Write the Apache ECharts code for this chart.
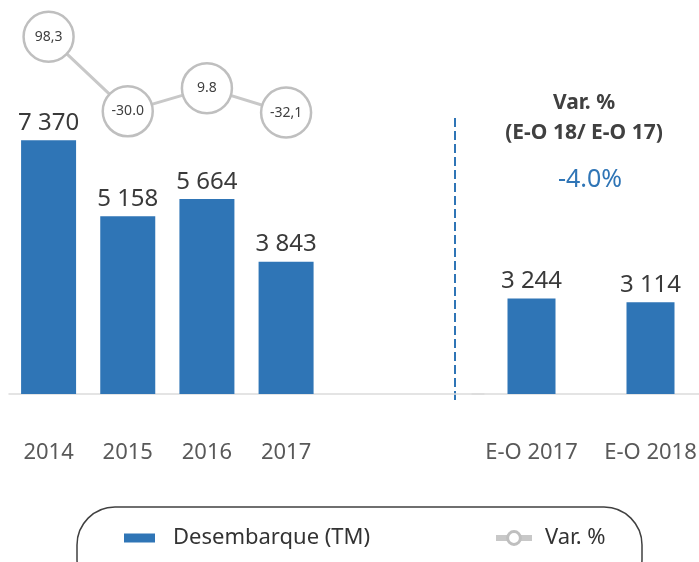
<!DOCTYPE html>
<html>
<head>
<meta charset="utf-8">
<script src="https://cdn.jsdelivr.net/npm/echarts@6/dist/echarts.min.js"></script>
<style>
  html, body { margin: 0; padding: 0; background: #fff; }
  #chart { width: 699px; height: 562px; }
</style>
</head>
<body>
<div id="chart"></div>
<script>
const years = ['2014', '2015', '2016', '2017'];
const desembarque = [7370, 5158, 5664, 3843];
const eoCats = ['E-O 2017', 'E-O 2018'];
const eoValues = [3244, 3114];
const varPct = [98.3, -30.0, 9.8, -32.1];
const varLabels = ['98,3', '-30.0', '9.8', '-32,1'];

const BLUE = '#2f75b6';
const fmt = v => String(v).replace(/\B(?=(\d{3})+(?!\d))/g, ' ');

const chart = echarts.init(document.getElementById('chart'));

const barLabel = {
  show: true,
  position: 'top',
  distance: 5,
  fontSize: 24,
  color: '#3a3a3a',
  formatter: p => fmt(p.value)
};

const xLabel = {
  fontSize: 22, color: '#595959', margin: 48,
  interval: 0, showMinLabel: true, showMaxLabel: true, hideOverlap: false
};

const option = {
  animation: false,
  textStyle: { fontFamily: 'Noto Sans' },
  grid: [
    { left: 9, right: 215, top: 20, bottom: 168, outerBoundsMode: 'none' },
    { left: 472, width: 238, top: 20, bottom: 168, outerBoundsMode: 'none' }
  ],
  xAxis: [
    {
      type: 'category', gridIndex: 0,
      data: years.concat(['', '']),
      axisTick: { show: false },
      axisLine: { lineStyle: { color: '#dcdcdc', width: 1.5 } },
      axisLabel: xLabel
    },
    {
      type: 'category', gridIndex: 1,
      data: eoCats,
      axisTick: { show: false },
      axisLine: { lineStyle: { color: '#dcdcdc', width: 1.5 } },
      axisLabel: xLabel
    }
  ],
  yAxis: [
    { type: 'value', gridIndex: 0, min: 0, max: 10860, show: false },
    { type: 'value', gridIndex: 0, min: -516, max: 127, show: false },
    { type: 'value', gridIndex: 1, min: 0, max: 12700, show: false }
  ],
  legend: [
    {
      data: ['Desembarque (TM)'],
      left: 119, top: 522,
      icon: 'rect', itemWidth: 31, itemHeight: 9,
      selectedMode: false,
      textStyle: { fontSize: 22, color: '#333', padding: [0, 0, 0, 13] }
    },
    {
      data: ['Var. %'],
      left: 488, top: 522,
      itemWidth: 36, itemHeight: 16,
      selectedMode: false,
      lineStyle: { width: 6, color: '#c8c8c8' },
      itemStyle: { color: '#fff', borderColor: '#bfbfbf', borderWidth: 3 },
      textStyle: { fontSize: 22, color: '#333', padding: [0, 0, 0, 8] }
    }
  ],
  graphic: [
    {
      type: 'line',
      shape: { x1: 455, y1: 118, x2: 455, y2: 402 },
      style: { stroke: BLUE, lineWidth: 2, lineDash: [9, 4] }
    },
    {
      type: 'text', x: 584, y: 103,
      style: { text: 'Var. %', font: 'bold 21px "Noto Sans"', fill: '#404040', align: 'center', verticalAlign: 'middle' }
    },
    {
      type: 'text', x: 584, y: 133,
      style: { text: '(E-O 18/ E-O 17)', font: 'bold 21px "Noto Sans"', fill: '#404040', align: 'center', verticalAlign: 'middle' }
    },
    {
      type: 'text', x: 590, y: 180,
      style: { text: '-4.0%', font: '25px "Noto Sans"', fill: BLUE, align: 'center', verticalAlign: 'middle' }
    },
    {
      type: 'rect',
      shape: { x: 77, y: 507, width: 565, height: 90, r: 38 },
      style: { fill: 'none', stroke: '#404040', lineWidth: 1.5 }
    }
  ],
  series: [
    {
      name: 'Desembarque (TM)',
      type: 'bar',
      xAxisIndex: 0, yAxisIndex: 0,
      barWidth: 55,
      itemStyle: { color: BLUE },
      label: barLabel,
      data: desembarque
    },
    {
      name: 'Desembarque (TM)',
      type: 'bar',
      xAxisIndex: 1, yAxisIndex: 2,
      barWidth: 48,
      itemStyle: { color: BLUE },
      label: barLabel,
      data: eoValues
    },
    {
      name: 'Var. %',
      type: 'line',
      xAxisIndex: 0, yAxisIndex: 1,
      clip: false,
      z: 5,
      symbol: 'circle',
      symbolSize: 50,
      itemStyle: { color: '#fff', borderColor: '#bfbfbf', borderWidth: 2.5 },
      lineStyle: { color: '#c8c8c8', width: 3 },
      label: {
        show: true,
        position: 'inside',
        fontSize: 14,
        color: '#404040',
        formatter: p => varLabels[p.dataIndex]
      },
      data: varPct
    }
  ]
};

chart.setOption(option);
window.addEventListener('resize', () => chart.resize());
</script>
</body>
</html>
